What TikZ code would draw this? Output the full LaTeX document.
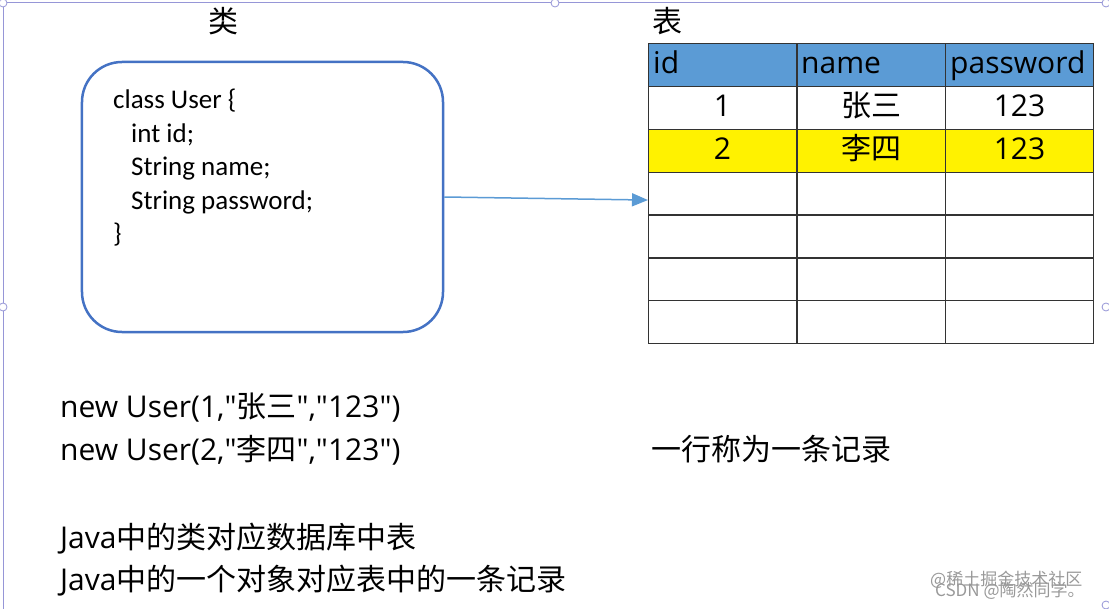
\documentclass[tikz,border=0pt]{standalone}
\usepackage{fontspec}
\setmainfont{Carlito}
\newfontfamily\cjk{Noto Sans CJK SC}
\newfontfamily\os{Open Sans}
\usetikzlibrary{arrows.meta}
\definecolor{clsblue}{RGB}{68,114,196}
\definecolor{hdrblue}{RGB}{91,155,213}
\definecolor{selpurple}{RGB}{150,150,215}
\tikzset{
  cell/.style={draw=black!80, line width=1.3bp, minimum width=148.33bp, minimum height=42.857bp, inner sep=0pt, anchor=north west},
  big/.style={inner sep=0pt, font=\fontsize{30bp}{36bp}\selectfont},
  code/.style={inner sep=0pt, anchor=base west, font=\fontsize{27bp}{33bp}\selectfont},
  wm/.style={inner sep=0pt, anchor=base west, text=black!40, font=\cjk\fontsize{17bp}{20bp}\selectfont},
  flow/.style={draw=hdrblue, line width=1.5bp, -{Triangle[length=16bp,width=13bp]}},
  handle/.style={draw=selpurple, fill=white, line width=0.8bp}
}
\begin{document}
\begin{tikzpicture}[x=1bp,y=-1bp]
\fill[white] (0,0) rectangle (1109,609);
\useasboundingbox (0,0) rectangle (1109,609);
% selection frame
\draw[selpurple, line width=1bp] (3,0) -- (3,609);
\draw[selpurple, line width=1bp] (3,2.5) -- (1103,2.5);
\foreach \p in {(3,3),(555,3),(1106,3),(3,307),(1106,307),(1106,605)}
  \draw[handle] \p circle (4);
% labels
\node[big, anchor=base] (lblcls) at (223,33) {\cjk 类};
\node[big, anchor=base west] (lbltbl) at (652,33) {\cjk 表};
% class box
\node[draw=clsblue, line width=2.5bp, rounded corners=40bp, minimum width=361bp, minimum height=270bp, inner sep=0pt] (cls) at (262.5,197) {};
\node[code] (k1) at (113,109) {class User \{};
\node[code] (k2) at (131,142.5) {int id;};
\node[code] (k3) at (131,176) {String name;};
\node[code] (k4) at (131,209.5) {String password;};
\node[code] (k5) at (113,243) {\}};
% table
\foreach \r in {1,...,7}{
  \foreach \c in {1,2,3}{
    \ifnum\r=1 \def\cf{hdrblue}\else\ifnum\r=3 \def\cf{yellow}\else\def\cf{white}\fi\fi
    \node[cell, fill=\cf] (c\r\c) at ({648+148.33*(\c-1)},{43+42.857*(\r-1)}) {};
  }
}
\node[big, anchor=base west] (h1) at (653,74) {\os id};
\node[big, anchor=base west] (h2) at (801,74) {\os name};
\node[big, anchor=base west] (h3) at (950,74) {\os password};
\node[big, anchor=base] (d11) at (722.5,117) {\os 1};
\node[big, anchor=base] (d12) at (871,117) {\cjk 张三};
\node[big, anchor=base] (d13) at (1019.5,117) {\os 123};
\node[big, anchor=base] (d21) at (722.5,160) {\os 2};
\node[big, anchor=base] (d22) at (871,160) {\cjk 李四};
\node[big, anchor=base] (d23) at (1019.5,160) {\os 123};
% arrow
\draw[flow] (cls.east) -- ([yshift=-6.4bp]c41.west);
% bottom texts
\node[big, anchor=base west] (n1) at (60,417) {\os new User(1,"{\cjk 张三}","123")};
\node[big, anchor=base west] (n2) at (60,460) {\os new User(2,"{\cjk 李四}","123")};
\node[big, anchor=base west] (rec) at (651,460) {\cjk 一行称为一条记录};
\node[big, anchor=base west] (j1) at (60,548) {\os Java{\cjk 中的类对应数据库中表}};
\node[big, anchor=base west] (j2) at (60,590) {\os Java{\cjk 中的一个对象对应表中的一条记录}};
% watermarks
\node[wm] (w1) at (930,585) {@稀土掘金技术社区};
\node[wm] (w2) at (935,596) {CSDN @陶然同学。};
\end{tikzpicture}
\end{document}
